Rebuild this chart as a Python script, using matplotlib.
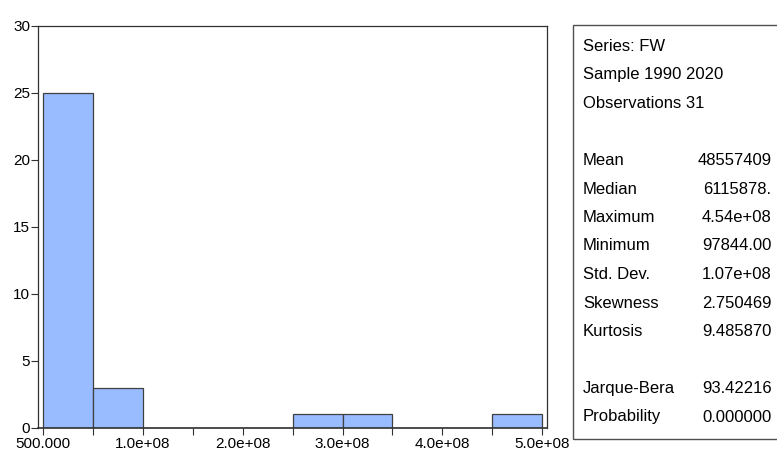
import matplotlib
matplotlib.use("Agg")
import matplotlib.pyplot as plt
from matplotlib.patches import Rectangle
import numpy as np

# histogram of FW (counts per 5e7-wide bin)
bin_edges = [0, 0.5e8, 1.0e8, 1.5e8, 2.0e8, 2.5e8, 3.0e8, 3.5e8, 4.0e8, 4.5e8, 5.0e8]
counts = [25, 3, 0, 0, 0, 1, 1, 0, 0, 1]

xtick_pos = [0, 1e8, 2e8, 3e8, 4e8, 5e8]
xtick_labels = ["500.000", "1.0e+08", "2.0e+08", "3.0e+08", "4.0e+08", "5.0e+08"]
yticks = [0, 5, 10, 15, 20, 25, 30]

stats_header = ["Series: FW", "Sample 1990 2020", "Observations 31"]
stat_names = ["Mean", "Median", "Maximum", "Minimum", "Std. Dev.", "Skewness", "Kurtosis"]
stat_values = ["48557409", "6115878.", "4.54e+08", "97844.00", "1.07e+08", "2.750469", "9.485870"]
test_names = ["Jarque-Bera", "Probability"]
test_values = ["93.42216", "0.000000"]

plt.rcParams["font.family"] = ["Liberation Sans", "DejaVu Sans"]

W, H = 777, 455
fig = plt.figure(figsize=(W / 100, H / 100), dpi=100)
ax = fig.add_axes([38.3 / W, 1 - 427.7 / H, (547 - 38.3) / W, (427.7 - 25.7) / H])

lefts = bin_edges[:-1]
widths = np.diff(bin_edges)
ax.bar(lefts, counts, width=widths, align="edge", color="#99bbff",
       edgecolor="#404040", linewidth=0.9)

ax.set_xlim(-0.05e8, 5.05e8)
ax.set_ylim(0, 30)
ax.set_xticks(xtick_pos)
ax.set_xticklabels(xtick_labels)
ax.set_xticks(bin_edges, minor=True)
ax.set_yticks(yticks)
ax.tick_params(axis="both", which="both", direction="out", length=5,
               width=0.8, color="#303030", labelsize=11, pad=2)
ax.tick_params(axis="y", length=5, pad=1)
for s in ax.spines.values():
    s.set_linewidth(0.9)
    s.set_color("#303030")
ax.spines["bottom"].set_linewidth(1.2)

# statistics box
fig.patches.append(Rectangle((572.7 / W, 1 - 439.3 / H), 0.5, (439.3 - 25.3) / H,
                             transform=fig.transFigure, facecolor="white",
                             edgecolor="#505050", linewidth=1.0))

x_lab = 583 / W
x_val = 771.5 / W

def row_y(i):
    return 1 - (46.5 + 28.5 * i) / H

fs = 12
for i, t in enumerate(stats_header):
    fig.text(x_lab, row_y(i), t, fontsize=fs, va="center", ha="left")
for i, (n, v) in enumerate(zip(stat_names, stat_values)):
    fig.text(x_lab, row_y(i + 4), n, fontsize=fs, va="center", ha="left")
    fig.text(x_val, row_y(i + 4), v, fontsize=fs, va="center", ha="right")
for i, (n, v) in enumerate(zip(test_names, test_values)):
    fig.text(x_lab, row_y(i + 12), n, fontsize=fs, va="center", ha="left")
    fig.text(x_val, row_y(i + 12), v, fontsize=fs, va="center", ha="right")

fig.savefig("out.png", dpi=100)
